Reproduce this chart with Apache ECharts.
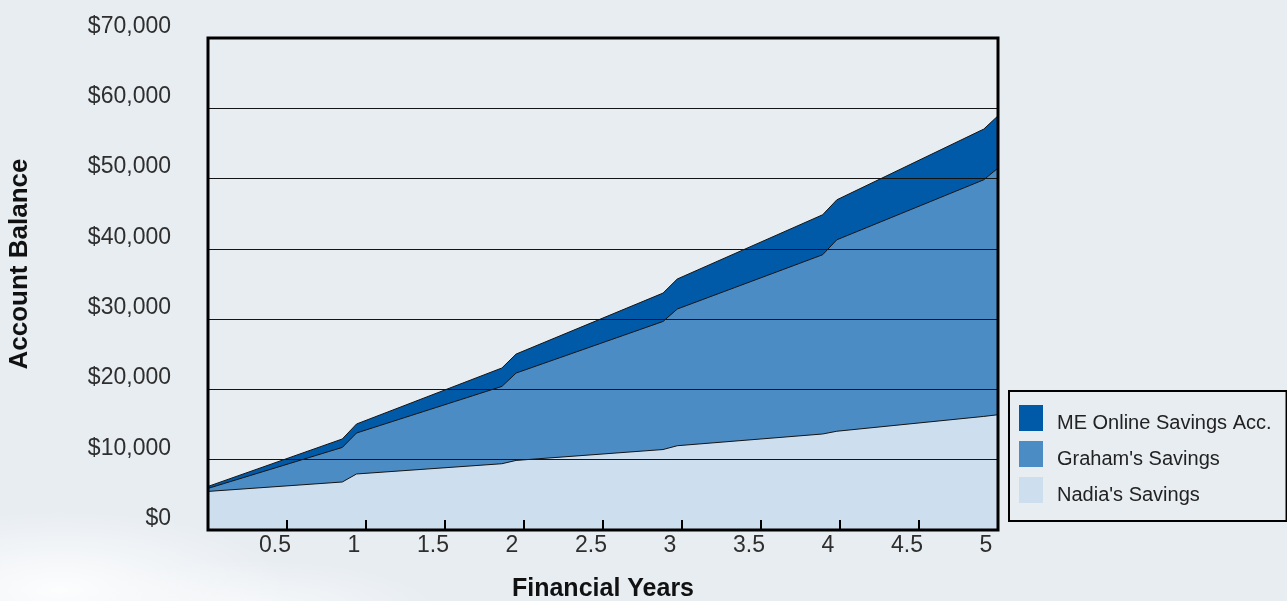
<!DOCTYPE html>
<html>
<head>
<meta charset="utf-8">
<title>Account Balance</title>
<script src="https://cdn.jsdelivr.net/npm/echarts@6/dist/echarts.min.js"></script>
<style>
  html, body { margin: 0; padding: 0; }
  body {
    width: 1287px; height: 601px; overflow: hidden;
    background:
      radial-gradient(ellipse 230px 80px at 60px 590px, rgba(255,255,255,0.9), rgba(255,255,255,0) 100%),
      radial-gradient(ellipse 180px 50px at 260px 610px, rgba(255,255,255,0.6), rgba(255,255,255,0) 100%),
      #e8edf2;
  }
  #chart { width: 1287px; height: 601px; }
</style>
</head>
<body>
<div id="chart"></div>
<script>
// financial years where the balances were read
var years = [0, 0.85, 0.94, 1.86, 1.95, 2.88, 2.97, 3.89, 3.98, 4.91, 5.0];

// each account on its own (stacked bottom to top: Nadia, Graham, ME)
var nadia  = [5490, 6830, 7970, 9430, 9900, 11450, 11990, 13660, 14050, 16160, 16400];
var graham = [430, 4920, 5830, 11000, 12430, 18220, 19450, 25500, 27240, 33670, 35090];
var meOnline = [280, 1200, 1280, 2620, 2700, 4040, 4270, 5690, 5690, 7210, 7440];

var seriesNames = ["Nadia's Savings", "Graham's Savings", "ME Online Savings Acc."];
var colors = ['#cddeee', '#4c8cc4', '#005aa8'];

var font = "'Liberation Sans', Arial, Helvetica, sans-serif";

// running totals, so each area's top edge sits on the one below it
var layers = [nadia, graham, meOnline];
var tops = [];
var run = years.map(function () { return 0; });
for (var s = 0; s < layers.length; s++) {
  run = run.map(function (v, i) { return v + layers[s][i]; });
  tops.push(years.map(function (x, i) { return [x, run[i]]; }));
}

var chart = echarts.init(document.getElementById('chart'), null, { renderer: 'canvas' });

// draw the tallest first so the lower layers paint over it
var series = [];
for (var k = layers.length - 1; k >= 0; k--) {
  series.push({
    name: seriesNames[k],
    type: 'line',
    symbol: 'none',
    data: tops[k],
    itemStyle: { color: colors[k] },
    lineStyle: { color: '#141414', width: 1 },
    areaStyle: { color: colors[k], opacity: 1 },
    z: 2
  });
}

var option = {
  backgroundColor: 'transparent',
  animation: false,
  grid: {
    left: 208, right: 289, top: 38, bottom: 71,
    outerBoundsMode: 'none',
    containLabel: false,
    show: true,
    backgroundColor: 'transparent',
    borderColor: '#000',
    borderWidth: 3,
    z: 6
  },
  legend: {
    orient: 'vertical',
    left: 1009,
    top: 391,
    padding: [14, 15, 16, 10],
    borderColor: '#000',
    borderWidth: 2,
    backgroundColor: 'transparent',
    itemWidth: 24,
    itemHeight: 26,
    itemGap: 8,
    icon: 'rect',
    selectedMode: false,
    itemStyle: { borderWidth: 0 },
    formatter: function (name) { return '{t|' + name + '}'; },
    textStyle: {
      fontFamily: font, fontSize: 20, color: '#222', padding: [0, 0, 0, 9],
      rich: { t: { fontFamily: font, fontSize: 20, color: '#222', padding: [10, 0, 0, 0] } }
    },
    data: [
      { name: seriesNames[2], itemStyle: { color: colors[2] } },
      { name: seriesNames[1], itemStyle: { color: colors[1] } },
      { name: seriesNames[0], itemStyle: { color: colors[0] } }
    ]
  },
  xAxis: {
    type: 'value',
    min: 0,
    max: 5,
    interval: 0.5,
    name: 'Financial Years',
    nameLocation: 'middle',
    nameGap: 47,
    nameTextStyle: { fontFamily: font, fontSize: 25, fontWeight: 'bold', color: '#111' },
    axisLine: { show: false },
    axisTick: { show: true, inside: true, length: 10, lineStyle: { color: '#000', width: 2 } },
    splitLine: { show: false },
    axisLabel: {
      showMinLabel: false,
      fontFamily: font,
      fontSize: 23,
      color: '#2e2e2e',
      margin: 4,
      padding: [0, 24, 0, 0]
    },
    z: 7
  },
  yAxis: {
    type: 'value',
    min: 0,
    max: 70000,
    interval: 10000,
    name: 'Account Balance',
    nameLocation: 'middle',
    nameGap: 175,
    nameTextStyle: { fontFamily: font, fontSize: 26, fontWeight: 'bold', color: '#111', padding: [0, 0, 0, 40] },
    axisLine: { show: false },
    axisTick: { show: false },
    splitLine: { show: true, lineStyle: { color: '#141414', width: 1 } },
    axisLabel: {
      fontFamily: font,
      fontSize: 23,
      color: '#2e2e2e',
      margin: 37,
      verticalAlign: 'bottom',
      formatter: function (v) { return '$' + v.toLocaleString('en-US'); }
    },
    z: 5
  },
  series: series
};

chart.setOption(option);
</script>
</body>
</html>
